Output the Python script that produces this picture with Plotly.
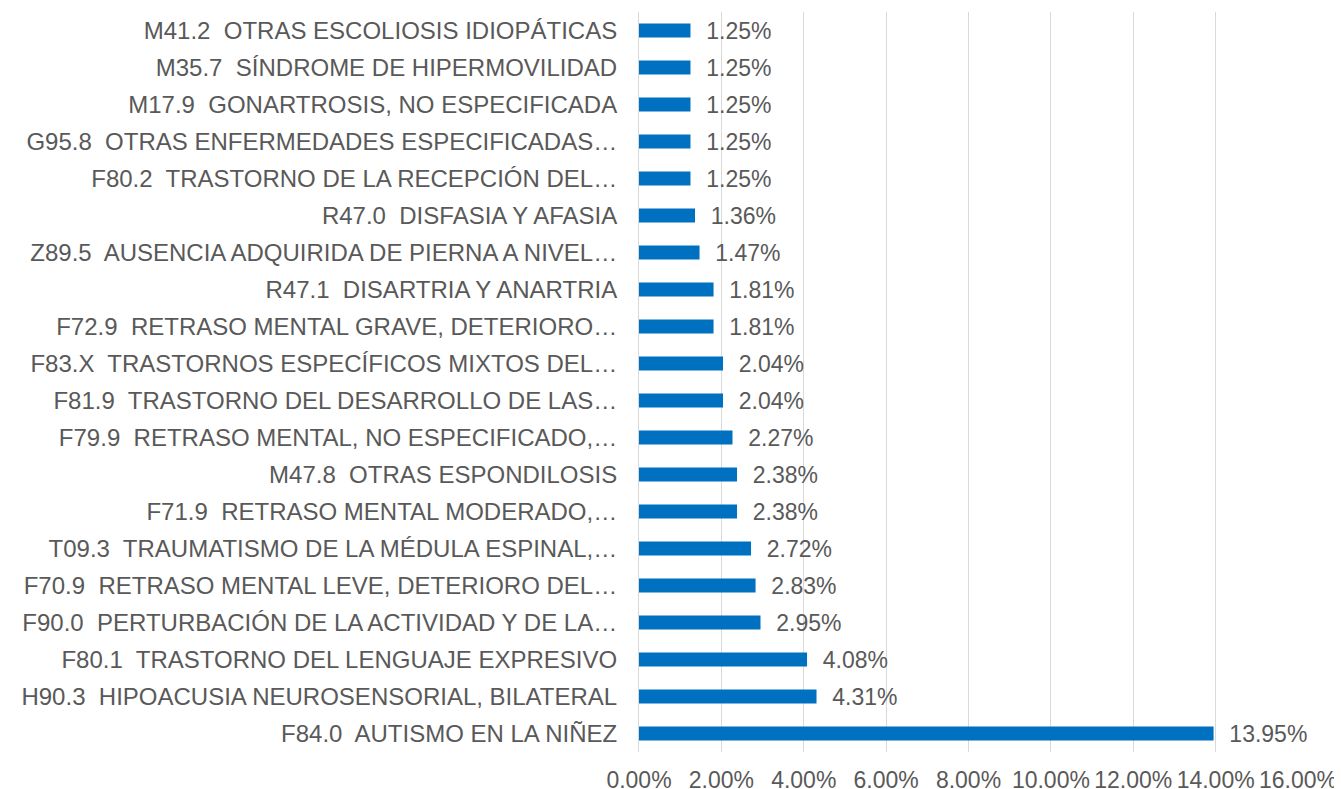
import plotly.graph_objects as go

categories = [
    "F84.0  AUTISMO EN LA NIÑEZ",
    "H90.3  HIPOACUSIA NEUROSENSORIAL, BILATERAL",
    "F80.1  TRASTORNO DEL LENGUAJE EXPRESIVO",
    "F90.0  PERTURBACIÓN DE LA ACTIVIDAD Y DE LA…",
    "F70.9  RETRASO MENTAL LEVE, DETERIORO DEL…",
    "T09.3  TRAUMATISMO DE LA MÉDULA ESPINAL,…",
    "F71.9  RETRASO MENTAL MODERADO,…",
    "M47.8  OTRAS ESPONDILOSIS",
    "F79.9  RETRASO MENTAL, NO ESPECIFICADO,…",
    "F81.9  TRASTORNO DEL DESARROLLO DE LAS…",
    "F83.X  TRASTORNOS ESPECÍFICOS MIXTOS DEL…",
    "F72.9  RETRASO MENTAL GRAVE, DETERIORO…",
    "R47.1  DISARTRIA Y ANARTRIA",
    "Z89.5  AUSENCIA ADQUIRIDA DE PIERNA A NIVEL…",
    "R47.0  DISFASIA Y AFASIA",
    "F80.2  TRASTORNO DE LA RECEPCIÓN DEL…",
    "G95.8  OTRAS ENFERMEDADES ESPECIFICADAS…",
    "M17.9  GONARTROSIS, NO ESPECIFICADA",
    "M35.7  SÍNDROME DE HIPERMOVILIDAD",
    "M41.2  OTRAS ESCOLIOSIS IDIOPÁTICAS",
]
values = [0.1395, 0.0431, 0.0408, 0.0295, 0.0283, 0.0272, 0.0238, 0.0238,
          0.0227, 0.0204, 0.0204, 0.0181, 0.0181, 0.0147, 0.0136, 0.0125,
          0.0125, 0.0125, 0.0125, 0.0125]
tick_vals = [0, 0.02, 0.04, 0.06, 0.08, 0.10, 0.12, 0.14, 0.16]

FONT = "Liberation Sans, Arial"
GRAY = "#595959"

fig = go.Figure(go.Bar(
    y=categories,
    x=values,
    orientation="h",
    marker=dict(color="#0070C0", line=dict(width=0)),
    width=0.38,
    text=["\u00a0\u00a0" + f"{v*100:.2f}%" for v in values],
    textposition="outside",
    constraintext="none",
    textfont=dict(family=FONT, size=23, color=GRAY),
    cliponaxis=False,
))

# page body has an 8px margin, so the figure is 8px smaller and margins shifted
fig.update_layout(
    width=1334, height=781,
    margin=dict(l=631, r=44, t=4, b=37, autoexpand=False),
    paper_bgcolor="white", plot_bgcolor="white",
    showlegend=False,
    font=dict(family=FONT, size=23, color=GRAY),
)
fig.update_xaxes(
    range=[0, 0.16], tickvals=tick_vals, tickformat=".2%",
    showgrid=True, gridcolor="#D9D9D9", gridwidth=1,
    zeroline=False, showline=False, ticks="",
    tickfont=dict(family=FONT, size=23, color=GRAY),
    ticklabelstandoff=12, automargin=False,
)
fig.update_yaxes(
    showgrid=False, zeroline=False, ticks="",
    showline=True, linecolor="#D9D9D9", linewidth=1,
    tickfont=dict(family=FONT, size=24, color=GRAY),
    ticklabelstandoff=16, automargin=False,
    range=[-0.5, 19.5],
)

fig.write_html("out.html")
